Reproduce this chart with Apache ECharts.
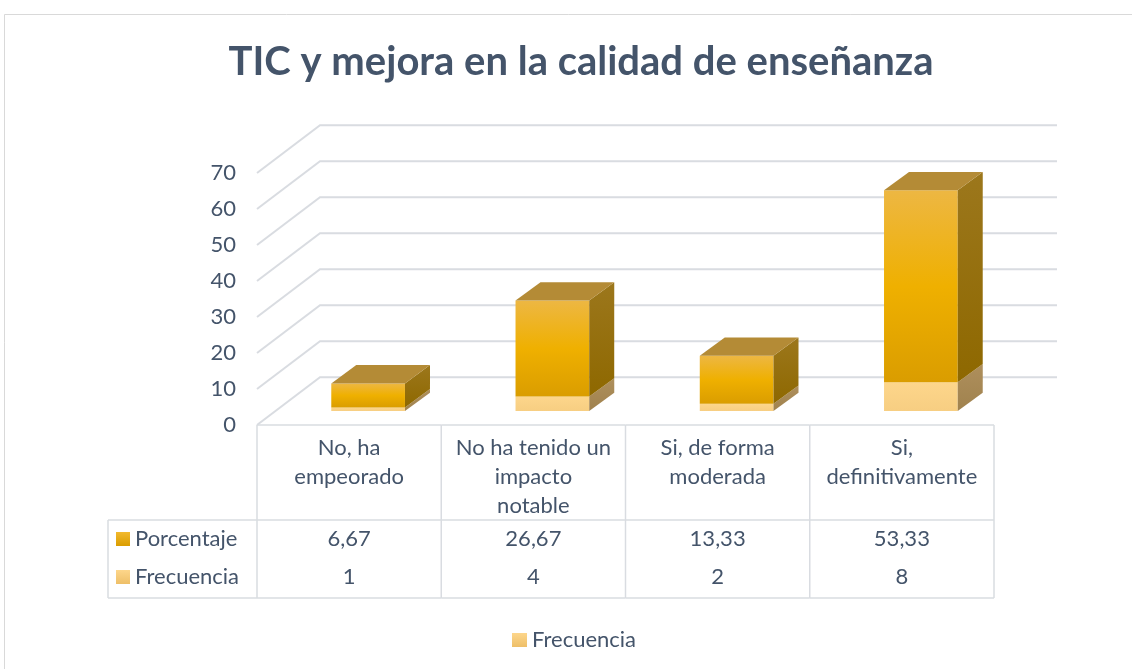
<!DOCTYPE html>
<html>
<head>
<meta charset="utf-8">
<title>TIC y mejora en la calidad de enseñanza</title>
<script src="https://cdn.jsdelivr.net/npm/echarts@6/dist/echarts.min.js"></script>
<style>
  html, body { margin: 0; padding: 0; background: #fff; }
  #chart { width: 1132px; height: 669px; }
</style>
</head>
<body>
<div id="chart"></div>
<script>
// datos
var categories = ['No, ha\nempeorado', 'No ha tenido un\nimpacto\nnotable', 'Si, de forma\nmoderada', 'Si,\ndefinitivamente']
var porcentaje = [6.67, 26.67, 13.33, 53.33]
var frecuencia = [1, 4, 2, 8]
var yTicks = [0, 10, 20, 30, 40, 50, 60, 70]

var FONT = 'Lato'
var FS = 22
var TEXT = '#44546A'
var LINE = '#D9DCE1'

// profundidad de la pared (px) y de las barras
var WALL_DX = 63, WALL_DY = -47.7
var BAR_OX = 19, BAR_OY = -14
var BAR_DX = 25, BAR_DY = -18.3

function vgrad(a, b, c) {
  var stops = c ? [{ offset: 0, color: a }, { offset: 0.5, color: b }, { offset: 1, color: c }]
    : [{ offset: 0, color: a }, { offset: 1, color: b }]
  return { type: 'linear', x: 0, y: 0, x2: 0, y2: 1, colorStops: stops }
}

var colors = {
  porcentaje: { front: vgrad('#EDB743', '#EFB000', '#DA9D00'), side: vgrad('#9C771C', '#8E6800'), top: '#B48B36', key: vgrad('#F2B92E', '#DA9D00') },
  frecuencia: { front: vgrad('#FDD68B', '#F7CE82'), side: vgrad('#AE8F5C', '#A0824E'), top: '#D8B56E', key: vgrad('#FDD68B', '#EEBF68') }
}

function fmtPct(v) { return v.toFixed(2).replace('.', ',') }

function boxRenderer(c, drawTop) {
  return function (params, api) {
    var i = api.value(0)
    var lo = api.coord([i, api.value(1)])
    var hi = api.coord([i, api.value(2)])
    var w = api.size([1, 0])[0] * 0.4
    var x0 = lo[0] - w / 2 + BAR_OX, x1 = x0 + w
    var yb = lo[1] + BAR_OY, yt = hi[1] + BAR_OY
    var children = [
      { type: 'rect', shape: { x: x0, y: yt, width: w, height: yb - yt }, style: { fill: c.front } },
      { type: 'polygon', shape: { points: [[x1, yb], [x1 + BAR_DX, yb + BAR_DY], [x1 + BAR_DX, yt + BAR_DY], [x1, yt]] }, style: { fill: c.side } }
    ]
    if (drawTop) {
      children.push({ type: 'polygon', shape: { points: [[x0, yt], [x1, yt], [x1 + BAR_DX, yt + BAR_DY], [x0 + BAR_DX, yt + BAR_DY]] }, style: { fill: c.top } })
    }
    return { type: 'group', children: children }
  }
}

// tabla de datos debajo del eje
var ROW1 = 114, ROW2 = 152, HEAD = 95, BOTTOM = 173, LEFT_W = 149
function tableRenderer(params, api) {
  var i = api.value(0)
  var p = api.coord([i, 0])
  var half = api.size([1, 0])[0] / 2
  var xl = p[0] - half, xr = p[0] + half, y = p[1]
  var ln = { stroke: LINE, lineWidth: 1.5 }
  var txt = function (x, yy, s, align) {
    return { type: 'text', x: x, y: yy, style: { text: s, font: FS + 'px ' + FONT, fill: TEXT, align: align || 'center', verticalAlign: 'middle' } }
  }
  var children = [
    { type: 'line', shape: { x1: xl, y1: y, x2: xr, y2: y }, style: ln },
    { type: 'line', shape: { x1: xr, y1: y, x2: xr, y2: y + BOTTOM }, style: ln },
    { type: 'line', shape: { x1: xl, y1: y + HEAD, x2: xr, y2: y + HEAD }, style: ln },
    { type: 'line', shape: { x1: xl, y1: y + BOTTOM, x2: xr, y2: y + BOTTOM }, style: ln },
    txt(p[0], y + ROW1, fmtPct(porcentaje[i])),
    txt(p[0], y + ROW2, String(frecuencia[i]))
  ]
  if (i === 0) {
    var xa = xl - LEFT_W
    children.push(
      { type: 'line', shape: { x1: xl, y1: y, x2: xl, y2: y + BOTTOM }, style: ln },
      { type: 'line', shape: { x1: xa, y1: y + HEAD, x2: xl, y2: y + HEAD }, style: ln },
      { type: 'line', shape: { x1: xa, y1: y + BOTTOM, x2: xl, y2: y + BOTTOM }, style: ln },
      { type: 'line', shape: { x1: xa, y1: y + HEAD, x2: xa, y2: y + BOTTOM }, style: ln },
      { type: 'rect', shape: { x: xa + 8, y: y + ROW1 - 7, width: 14, height: 14 }, style: { fill: colors.porcentaje.key } },
      { type: 'rect', shape: { x: xa + 8, y: y + ROW2 - 7, width: 14, height: 14 }, style: { fill: colors.frecuencia.key } },
      txt(xa + 27, y + ROW1, 'Porcentaje', 'left'),
      txt(xa + 27, y + ROW2, 'Frecuencia', 'left')
    )
  }
  return { type: 'group', children: children }
}

// líneas de la cuadrícula (pared lateral + fondo)
function gridRenderer(params, api) {
  var cs = params.coordSys
  var y = api.coord([0, api.value(0)])[1]
  var left = cs.x, right = cs.x + cs.width
  return {
    type: 'polyline',
    shape: { points: [[left, y], [left + WALL_DX, y + WALL_DY], [right + WALL_DX, y + WALL_DY]] },
    style: { stroke: LINE, lineWidth: 2, fill: null }
  }
}

var chart = echarts.init(document.getElementById('chart'))
chart.setOption({
  animation: false,
  backgroundColor: '#fff',
  title: {
    text: 'TIC y mejora en la calidad de enseñanza',
    left: 576,
    textAlign: 'center',
    top: 37,
    textStyle: { fontFamily: FONT, fontWeight: 'bold', fontSize: 40, color: TEXT }
  },
  legend: {
    data: ['Frecuencia'],
    left: 507,
    top: 624,
    icon: 'rect',
    itemWidth: 15,
    itemHeight: 14,
    itemGap: 5,
    textStyle: { fontFamily: FONT, fontSize: FS, color: TEXT }
  },
  grid: { left: 257, right: 138, top: 173, bottom: 244 },
  xAxis: {
    type: 'category',
    data: categories,
    axisLine: { show: false },
    axisTick: { show: false },
    axisLabel: { interval: 0, margin: 8, fontFamily: FONT, fontSize: FS, lineHeight: 29, color: TEXT }
  },
  yAxis: {
    type: 'value',
    min: 0,
    max: 70,
    interval: 10,
    axisLine: { show: false },
    axisTick: { show: false },
    splitLine: { show: false },
    axisLabel: { margin: 21, fontFamily: FONT, fontSize: FS, color: TEXT }
  },
  graphic: [{
    type: 'rect',
    shape: { x: 4.5, y: 14.5, width: 1200, height: 800 },
    style: { fill: null, stroke: '#D9D9D9', lineWidth: 1 },
    silent: true
  }],
  series: [
    {
      type: 'custom',
      name: 'grid',
      renderItem: gridRenderer,
      data: yTicks.map(function (v) { return [v] }),
      silent: true,
      z: 1
    },
    {
      type: 'custom',
      name: 'Frecuencia',
      renderItem: boxRenderer(colors.frecuencia, false),
      itemStyle: { color: colors.frecuencia.key },
      data: frecuencia.map(function (v, i) { return [i, 0, v] }),
      clip: false,
      z: 3
    },
    {
      type: 'custom',
      name: 'Porcentaje',
      renderItem: boxRenderer(colors.porcentaje, true),
      itemStyle: { color: colors.porcentaje.key },
      data: porcentaje.map(function (v, i) { return [i, frecuencia[i], frecuencia[i] + v] }),
      clip: false,
      z: 3
    },
    {
      type: 'custom',
      name: 'tabla',
      renderItem: tableRenderer,
      data: categories.map(function (c, i) { return [i] }),
      clip: false,
      silent: true,
      z: 2
    }
  ]
})
</script>
</body>
</html>
